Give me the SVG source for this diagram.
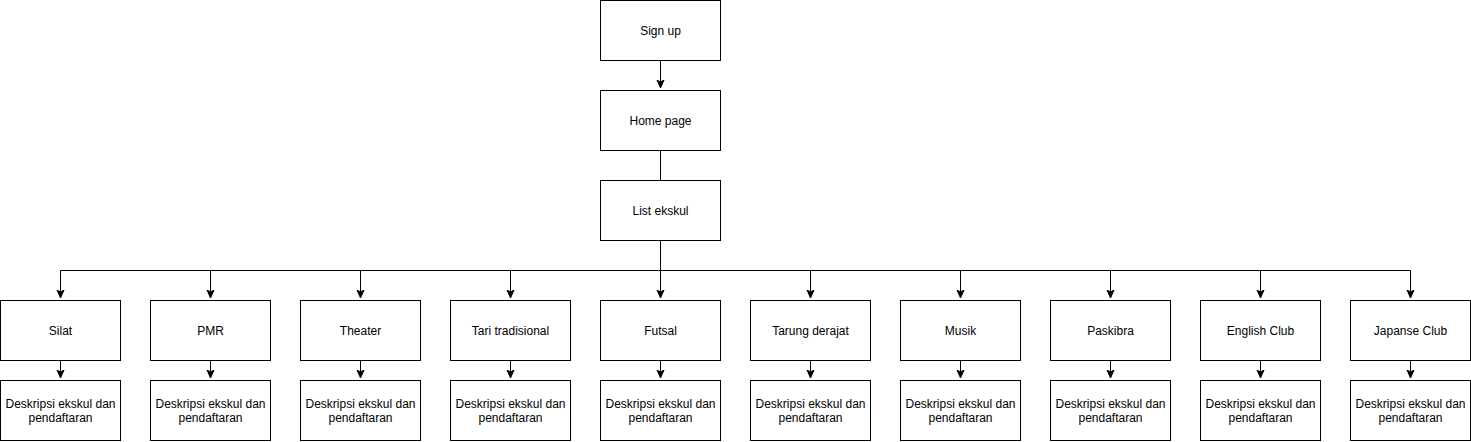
<svg xmlns="http://www.w3.org/2000/svg" width="1471" height="442" viewBox="0 0 1471 442">
<style>
.b{fill:#fff;stroke:#000;stroke-width:1}
.t{font-family:"Liberation Sans",Arial,sans-serif;font-size:12px;fill:#000;text-anchor:middle}
.c{fill:none;stroke:#000;stroke-width:1}
</style>
<defs>
<marker id="a" markerUnits="userSpaceOnUse" markerWidth="10" markerHeight="10" viewBox="0 0 10 10" refX="8" refY="5" orient="auto">
<path d="M0,1.5 L8,5 L0,8.5 L2,5 Z" fill="#000" stroke="#000" stroke-width="1"/>
</marker>
</defs>
<rect width="1471" height="442" fill="#fff"/>
<g id="connectors">
<path class="c" d="M660.5,60.5 V88" marker-end="url(#a)"/>
<path class="c" d="M660.5,150.5 V180.5"/>
<path class="c" d="M660.5,240.5 V270.5 M60.5,270.5 H1410.5"/>
<path class="c" d="M60.5,270.5 V298" marker-end="url(#a)"/>
<path class="c" d="M210.5,270.5 V298" marker-end="url(#a)"/>
<path class="c" d="M360.5,270.5 V298" marker-end="url(#a)"/>
<path class="c" d="M510.5,270.5 V298" marker-end="url(#a)"/>
<path class="c" d="M660.5,270.5 V298" marker-end="url(#a)"/>
<path class="c" d="M810.5,270.5 V298" marker-end="url(#a)"/>
<path class="c" d="M960.5,270.5 V298" marker-end="url(#a)"/>
<path class="c" d="M1110.5,270.5 V298" marker-end="url(#a)"/>
<path class="c" d="M1260.5,270.5 V298" marker-end="url(#a)"/>
<path class="c" d="M1410.5,270.5 V298" marker-end="url(#a)"/>
<path class="c" d="M60.5,360.5 V378" marker-end="url(#a)"/>
<path class="c" d="M210.5,360.5 V378" marker-end="url(#a)"/>
<path class="c" d="M360.5,360.5 V378" marker-end="url(#a)"/>
<path class="c" d="M510.5,360.5 V378" marker-end="url(#a)"/>
<path class="c" d="M660.5,360.5 V378" marker-end="url(#a)"/>
<path class="c" d="M810.5,360.5 V378" marker-end="url(#a)"/>
<path class="c" d="M960.5,360.5 V378" marker-end="url(#a)"/>
<path class="c" d="M1110.5,360.5 V378" marker-end="url(#a)"/>
<path class="c" d="M1260.5,360.5 V378" marker-end="url(#a)"/>
<path class="c" d="M1410.5,360.5 V378" marker-end="url(#a)"/>
</g>
<g id="signup"><rect class="b" x="600.5" y="0.5" width="120" height="60"/><text class="t" x="660.5" y="34.5">Sign up</text></g>
<g id="homepage"><rect class="b" x="600.5" y="90.5" width="120" height="60"/><text class="t" x="660.5" y="124.5">Home page</text></g>
<g id="listekskul"><rect class="b" x="600.5" y="180.5" width="120" height="60"/><text class="t" x="660.5" y="214.5">List ekskul</text></g>
<g id="silat"><rect class="b" x="0.5" y="300.5" width="120" height="60"/><text class="t" x="60.5" y="334.5">Silat</text></g>
<g id="pmr"><rect class="b" x="150.5" y="300.5" width="120" height="60"/><text class="t" x="210.5" y="334.5">PMR</text></g>
<g id="theater"><rect class="b" x="300.5" y="300.5" width="120" height="60"/><text class="t" x="360.5" y="334.5">Theater</text></g>
<g id="tari"><rect class="b" x="450.5" y="300.5" width="120" height="60"/><text class="t" x="510.5" y="334.5">Tari tradisional</text></g>
<g id="futsal"><rect class="b" x="600.5" y="300.5" width="120" height="60"/><text class="t" x="660.5" y="334.5">Futsal</text></g>
<g id="tarung"><rect class="b" x="750.5" y="300.5" width="120" height="60"/><text class="t" x="810.5" y="334.5">Tarung derajat</text></g>
<g id="musik"><rect class="b" x="900.5" y="300.5" width="120" height="60"/><text class="t" x="960.5" y="334.5">Musik</text></g>
<g id="paskibra"><rect class="b" x="1050.5" y="300.5" width="120" height="60"/><text class="t" x="1110.5" y="334.5">Paskibra</text></g>
<g id="english"><rect class="b" x="1200.5" y="300.5" width="120" height="60"/><text class="t" x="1260.5" y="334.5">English Club</text></g>
<g id="japanse"><rect class="b" x="1350.5" y="300.5" width="120" height="60"/><text class="t" x="1410.5" y="334.5">Japanse Club</text></g>
<g id="d1"><rect class="b" x="0.5" y="380.5" width="120" height="60"/><text class="t" x="60.5" y="407.5">Deskripsi ekskul dan</text><text class="t" x="60.5" y="421.5">pendaftaran</text></g>
<g id="d2"><rect class="b" x="150.5" y="380.5" width="120" height="60"/><text class="t" x="210.5" y="407.5">Deskripsi ekskul dan</text><text class="t" x="210.5" y="421.5">pendaftaran</text></g>
<g id="d3"><rect class="b" x="300.5" y="380.5" width="120" height="60"/><text class="t" x="360.5" y="407.5">Deskripsi ekskul dan</text><text class="t" x="360.5" y="421.5">pendaftaran</text></g>
<g id="d4"><rect class="b" x="450.5" y="380.5" width="120" height="60"/><text class="t" x="510.5" y="407.5">Deskripsi ekskul dan</text><text class="t" x="510.5" y="421.5">pendaftaran</text></g>
<g id="d5"><rect class="b" x="600.5" y="380.5" width="120" height="60"/><text class="t" x="660.5" y="407.5">Deskripsi ekskul dan</text><text class="t" x="660.5" y="421.5">pendaftaran</text></g>
<g id="d6"><rect class="b" x="750.5" y="380.5" width="120" height="60"/><text class="t" x="810.5" y="407.5">Deskripsi ekskul dan</text><text class="t" x="810.5" y="421.5">pendaftaran</text></g>
<g id="d7"><rect class="b" x="900.5" y="380.5" width="120" height="60"/><text class="t" x="960.5" y="407.5">Deskripsi ekskul dan</text><text class="t" x="960.5" y="421.5">pendaftaran</text></g>
<g id="d8"><rect class="b" x="1050.5" y="380.5" width="120" height="60"/><text class="t" x="1110.5" y="407.5">Deskripsi ekskul dan</text><text class="t" x="1110.5" y="421.5">pendaftaran</text></g>
<g id="d9"><rect class="b" x="1200.5" y="380.5" width="120" height="60"/><text class="t" x="1260.5" y="407.5">Deskripsi ekskul dan</text><text class="t" x="1260.5" y="421.5">pendaftaran</text></g>
<g id="d10"><rect class="b" x="1350.5" y="380.5" width="120" height="60"/><text class="t" x="1410.5" y="407.5">Deskripsi ekskul dan</text><text class="t" x="1410.5" y="421.5">pendaftaran</text></g>
</svg>
